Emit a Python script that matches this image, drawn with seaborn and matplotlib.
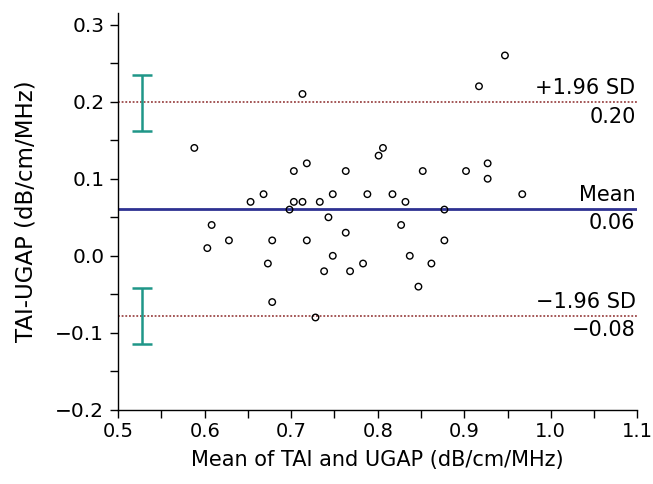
import numpy as np
import pandas as pd
import matplotlib
matplotlib.use('Agg')
import matplotlib.pyplot as plt
import seaborn as sns
from matplotlib.ticker import MultipleLocator, FixedLocator

# Bland-Altman data
mean_vals = [0.588, 0.603, 0.608, 0.628, 0.653, 0.668, 0.673, 0.678, 0.678, 0.698,
             0.703, 0.703, 0.713, 0.713, 0.718, 0.718, 0.728, 0.733, 0.738, 0.743,
             0.748, 0.748, 0.763, 0.763, 0.768, 0.783, 0.788, 0.801, 0.806, 0.817,
             0.827, 0.832, 0.837, 0.847, 0.852, 0.862, 0.877, 0.877, 0.902, 0.917,
             0.927, 0.927, 0.947, 0.967]
diff_vals = [0.14, 0.01, 0.04, 0.02, 0.07, 0.08, -0.01, 0.02, -0.06, 0.06,
             0.11, 0.07, 0.21, 0.07, 0.12, 0.02, -0.08, 0.07, -0.02, 0.05,
             0.08, 0.00, 0.11, 0.03, -0.02, -0.01, 0.08, 0.13, 0.14, 0.08,
             0.04, 0.07, 0.00, -0.04, 0.11, -0.01, 0.06, 0.02, 0.11, 0.22,
             0.12, 0.10, 0.26, 0.08]

mean_diff = 0.061
upper_loa = 0.199
lower_loa = -0.078
upper_ci = [0.162, 0.235]
lower_ci = [-0.114, -0.042]
ci_x = 0.527

df = pd.DataFrame({'mean': mean_vals, 'diff': diff_vals})

sns.set_style('ticks')
plt.rcParams['font.family'] = ['DejaVu Sans']
plt.rcParams['text.color'] = 'black'
plt.rcParams['axes.labelcolor'] = 'black'
plt.rcParams['xtick.color'] = 'black'
plt.rcParams['ytick.color'] = 'black'

fig = plt.figure(figsize=(6.53, 4.84), dpi=100)
ax = fig.add_axes([0.181, 0.153, 0.795, 0.820])

ax.axhline(mean_diff, color='#2e3192', lw=2, zorder=1)
ax.axhline(upper_loa, color='#8b2a2a', lw=1.1, ls=(0, (1.2, 1.2)), zorder=1)
ax.axhline(lower_loa, color='#8b2a2a', lw=1.1, ls=(0, (1.2, 1.2)), zorder=1)

sns.scatterplot(data=df, x='mean', y='diff', ax=ax, marker='o', s=22,
                facecolor='none', edgecolor='black', linewidth=1, zorder=3)

for lo, hi in [upper_ci, lower_ci]:
    ax.errorbar([ci_x], [(lo + hi) / 2], yerr=[[(hi - lo) / 2], [(hi - lo) / 2]],
                fmt='none', ecolor='#1f9688', elinewidth=1.8, capsize=7.5, capthick=1.8)

xr = 1.098
labels = [(upper_loa, '+1.96 SD', '0.20'), (mean_diff, 'Mean', '0.06'),
          (lower_loa, '\u22121.96 SD', '\u22120.08')]
for y, top, bottom in labels:
    ax.annotate(top, xy=(xr, y), xytext=(0, 3), textcoords='offset points',
                ha='right', va='bottom', fontsize=15)
    ax.annotate(bottom, xy=(xr, y), xytext=(0, -3), textcoords='offset points',
                ha='right', va='top', fontsize=15)

ax.set_xlim(0.5, 1.1)
ax.set_ylim(-0.2, 0.315)
ax.xaxis.set_major_locator(FixedLocator(np.arange(0.5, 1.11, 0.1)))
ax.xaxis.set_minor_locator(MultipleLocator(0.05))
ax.yaxis.set_major_locator(FixedLocator(np.arange(-0.2, 0.31, 0.1)))
ax.yaxis.set_minor_locator(MultipleLocator(0.05))
ax.xaxis.set_major_formatter(plt.FuncFormatter(lambda v, p: f'{v:.1f}'.replace('-', '\u2212')))
ax.yaxis.set_major_formatter(plt.FuncFormatter(lambda v, p: f'{v:.1f}'.replace('-', '\u2212')))
ax.tick_params(which='both', length=6, width=1, color='black', labelsize=14.5, direction='out')
ax.tick_params(axis='x', pad=3, labelsize=14)
ax.tick_params(axis='y', pad=4)

for s in ['top', 'right']:
    ax.spines[s].set_visible(False)
for s in ['left', 'bottom']:
    ax.spines[s].set_color('black')
    ax.spines[s].set_linewidth(1)

ax.set_xlabel('Mean of TAI and UGAP (dB/cm/MHz)', fontsize=15, labelpad=6)
ax.set_ylabel('TAI-UGAP (dB/cm/MHz)', fontsize=16.5, labelpad=13)

fig.savefig('out.png', dpi=100)
